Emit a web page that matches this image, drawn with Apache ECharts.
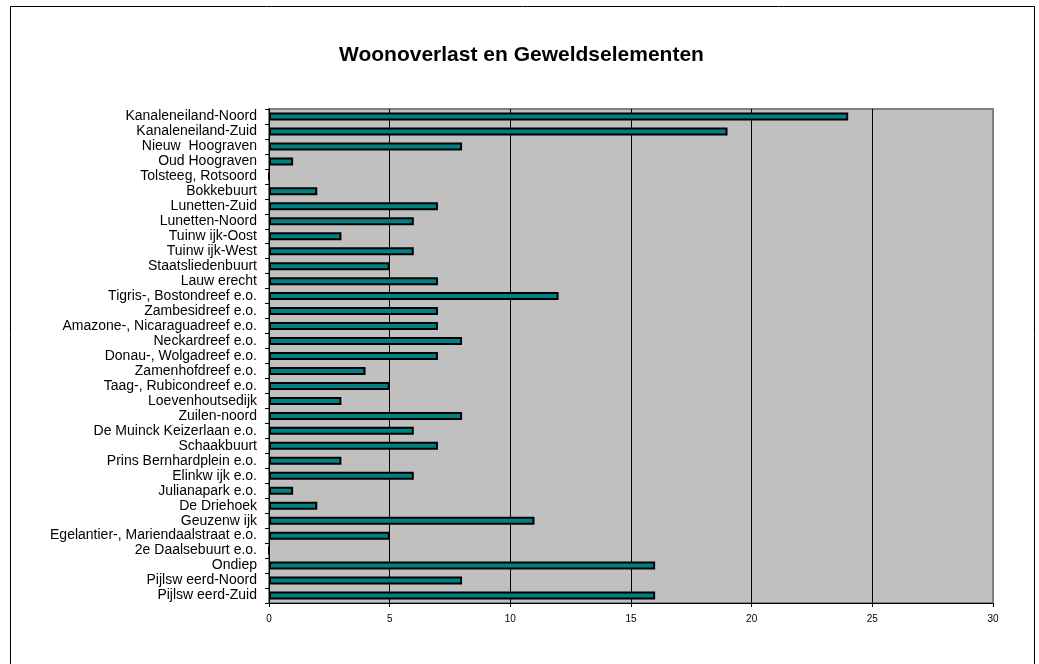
<!DOCTYPE html>
<html>
<head>
<meta charset="utf-8">
<title>Woonoverlast en Geweldselementen</title>
<script src="https://cdn.jsdelivr.net/npm/echarts@6/dist/echarts.min.js"></script>
<style>
  html, body { margin: 0; padding: 0; background: #fff; }
  #chart { width: 1039px; height: 664px; }
</style>
</head>
<body>
<div id="chart"></div>
<script>
const categories = [
  "Kanaleneiland-Noord", "Kanaleneiland-Zuid", "Nieuw  Hoograven", "Oud Hoograven",
  "Tolsteeg, Rotsoord", "Bokkebuurt", "Lunetten-Zuid", "Lunetten-Noord",
  "Tuinw ijk-Oost", "Tuinw ijk-West", "Staatsliedenbuurt", "Lauw erecht",
  "Tigris-, Bostondreef e.o.", "Zambesidreef e.o.", "Amazone-, Nicaraguadreef e.o.",
  "Neckardreef e.o.", "Donau-, Wolgadreef e.o.", "Zamenhofdreef e.o.",
  "Taag-, Rubicondreef e.o.", "Loevenhoutsedijk", "Zuilen-noord",
  "De Muinck Keizerlaan e.o.", "Schaakbuurt", "Prins Bernhardplein e.o.",
  "Elinkw ijk e.o.", "Julianapark e.o.", "De Driehoek", "Geuzenw ijk",
  "Egelantier-, Mariendaalstraat e.o.", "2e Daalsebuurt e.o.", "Ondiep",
  "Pijlsw eerd-Noord", "Pijlsw eerd-Zuid"
];
const values = [
  24, 19, 8, 1,
  0, 2, 7, 6,
  3, 6, 5, 7,
  12, 7, 7,
  8, 7, 4,
  5, 3, 8,
  6, 7, 3,
  6, 1, 2, 11,
  5, 0, 16,
  8, 16
];
const xTicks = [0, 5, 10, 15, 20, 25, 30];

const font = "Liberation Sans, Arial, sans-serif";
const myChart = echarts.init(document.getElementById("chart"), null, { renderer: "canvas" });

const option = {
  animation: false,
  backgroundColor: "#fff",
  title: {
    text: "Woonoverlast en Geweldselementen",
    left: 334,
    top: 40,
    textStyle: { fontFamily: font, fontSize: 21, fontWeight: "bold", color: "#000" }
  },
  // outer frame of the chart
  graphic: [{
    type: "rect",
    silent: true,
    shape: { x: 10.5, y: 6.5, width: 1024, height: 700 },
    style: { fill: "none", stroke: "#000", lineWidth: 1 }
  }],
  grid: {
    left: 269,
    right: 46,
    top: 109,
    bottom: 61,
    show: true,
    backgroundColor: "#C0C0C0",
    borderColor: "#808080",
    borderWidth: 2
  },
  xAxis: {
    type: "value",
    min: xTicks[0],
    max: xTicks[xTicks.length - 1],
    interval: 5,
    axisLine: { show: true, lineStyle: { color: "#000", width: 1 } },
    axisTick: { show: true, length: 4, lineStyle: { color: "#000" } },
    axisLabel: { fontFamily: font, fontSize: 10, color: "#000", margin: 11 },
    splitLine: {
      show: true,
      lineStyle: { color: ["#000", "#000", "#000", "#000", "#000", "#000", "#808080"], width: 1 }
    }
  },
  yAxis: {
    type: "category",
    data: categories,
    inverse: true,
    axisLine: { show: true, lineStyle: { color: "#000", width: 1 } },
    axisTick: { show: true, length: 4, lineStyle: { color: "#000" } },
    axisLabel: { fontFamily: font, fontSize: 14, color: "#000", margin: 12, interval: 0 },
    splitLine: { show: false }
  },
  series: [{
    type: "bar",
    data: values,
    barWidth: 8,
    itemStyle: { color: "#008080", borderColor: "#000", borderWidth: 2 }
  }]
};

myChart.setOption(option);
</script>
</body>
</html>
